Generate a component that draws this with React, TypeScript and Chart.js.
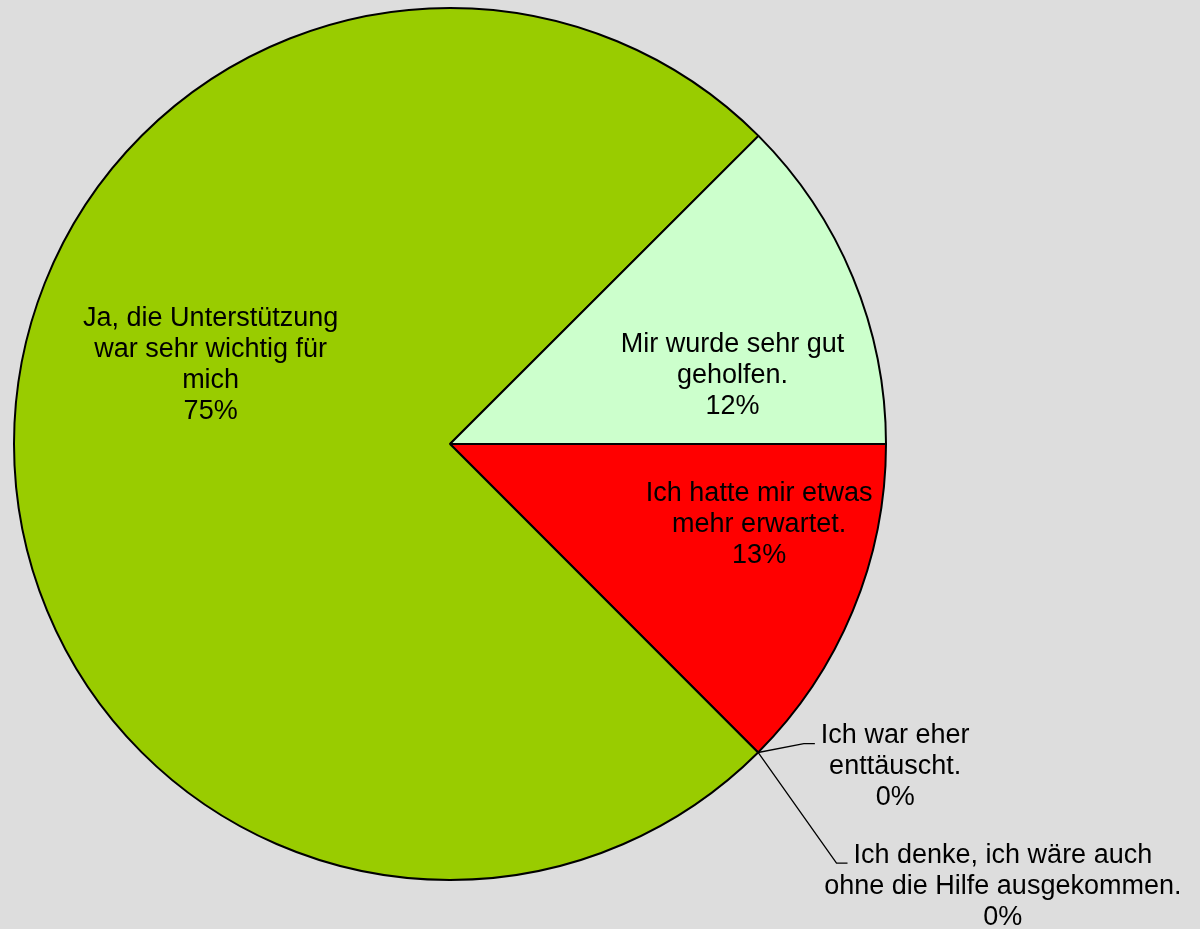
import React, { useEffect, useRef } from "react";
import { Chart, registerables } from "chart.js";

Chart.register(...registerables);

const categories: string[][] = [
  ["Ich hatte mir etwas", "mehr erwartet."],
  ["Ich war eher", "enttäuscht."],
  ["Ich denke, ich wäre auch", "ohne die Hilfe ausgekommen."],
  ["Ja, die Unterstützung", "war sehr wichtig für", "mich"],
  ["Mir wurde sehr gut", "geholfen."],
];
const values: number[] = [12.51, 0, 0, 75, 12.49];
const percentLabels: string[] = ["13%", "0%", "0%", "75%", "12%"];
const colors: string[] = ["#ff0000", "#ff9900", "#3366ff", "#99cc00", "#ccffcc"];

// label block centers, as fractions of the pie radius from the pie centre
const labelOffsets: [number, number][] = [
  [0.709, 0.185],
  [1.021, 0.74],
  [1.268, 1.014],
  [-0.549, -0.18],
  [0.648, -0.157],
];

const FONT = '27px "Liberation Sans", Arial, sans-serif';
const LINE_H = 31;

const labelPlugin = {
  id: "sliceLabels",
  afterDatasetsDraw(chart: any) {
    const ctx = chart.ctx as CanvasRenderingContext2D;
    const meta = chart.getDatasetMeta(0);
    ctx.save();
    ctx.font = FONT;
    ctx.fillStyle = "#000000";
    ctx.textAlign = "center";
    ctx.textBaseline = "middle";
    meta.data.forEach((arc: any, i: number) => {
      const { x, y, outerRadius, startAngle } = arc.getProps(
        ["x", "y", "outerRadius", "startAngle"],
        true
      );
      const lines = [...categories[i], percentLabels[i]];
      const cx = x + labelOffsets[i][0] * outerRadius;
      const cy = y + labelOffsets[i][1] * outerRadius;
      const top = cy - ((lines.length - 1) * LINE_H) / 2;
      lines.forEach((t, k) => {
        ctx.fillText(t, cx, top + k * LINE_H);
      });
      if (values[i] === 0) {
        const w = ctx.measureText(lines[0]).width;
        const left = cx - w / 2;
        const ay = top + 8;
        const px = x + outerRadius * Math.cos(startAngle);
        const py = y + outerRadius * Math.sin(startAngle);
        ctx.beginPath();
        ctx.strokeStyle = "#000000";
        ctx.lineWidth = 1.3;
        ctx.moveTo(px, py);
        ctx.lineTo(left - 17, ay);
        ctx.lineTo(left - 6, ay);
        ctx.stroke();
      }
    });
    ctx.restore();
  },
};

export default function App() {
  const ref = useRef<HTMLCanvasElement | null>(null);
  useEffect(() => {
    document.body.style.margin = "0";
    document.body.style.background = "#dddddd";
    if (!ref.current) return;
    const chart = new Chart(ref.current, {
      type: "pie",
      data: {
        labels: categories.map((c) => c.join(" ")),
        datasets: [
          {
            data: values,
            backgroundColor: colors,
            borderColor: "#000000",
            borderWidth: 2,
          },
        ],
      },
      options: {
        animation: false,
        responsive: false,
        rotation: 90,
        layout: { padding: { left: 13, right: 313, top: 7, bottom: 48 } },
        plugins: {
          legend: { display: false },
          tooltip: { enabled: false },
        },
      },
      plugins: [labelPlugin],
    });
    return () => chart.destroy();
  }, []);
  return (
    <div style={{ width: 1200, height: 929, background: "#dddddd" }}>
      <canvas ref={ref} width={1200} height={929} style={{ display: "block" }} />
    </div>
  );
}
